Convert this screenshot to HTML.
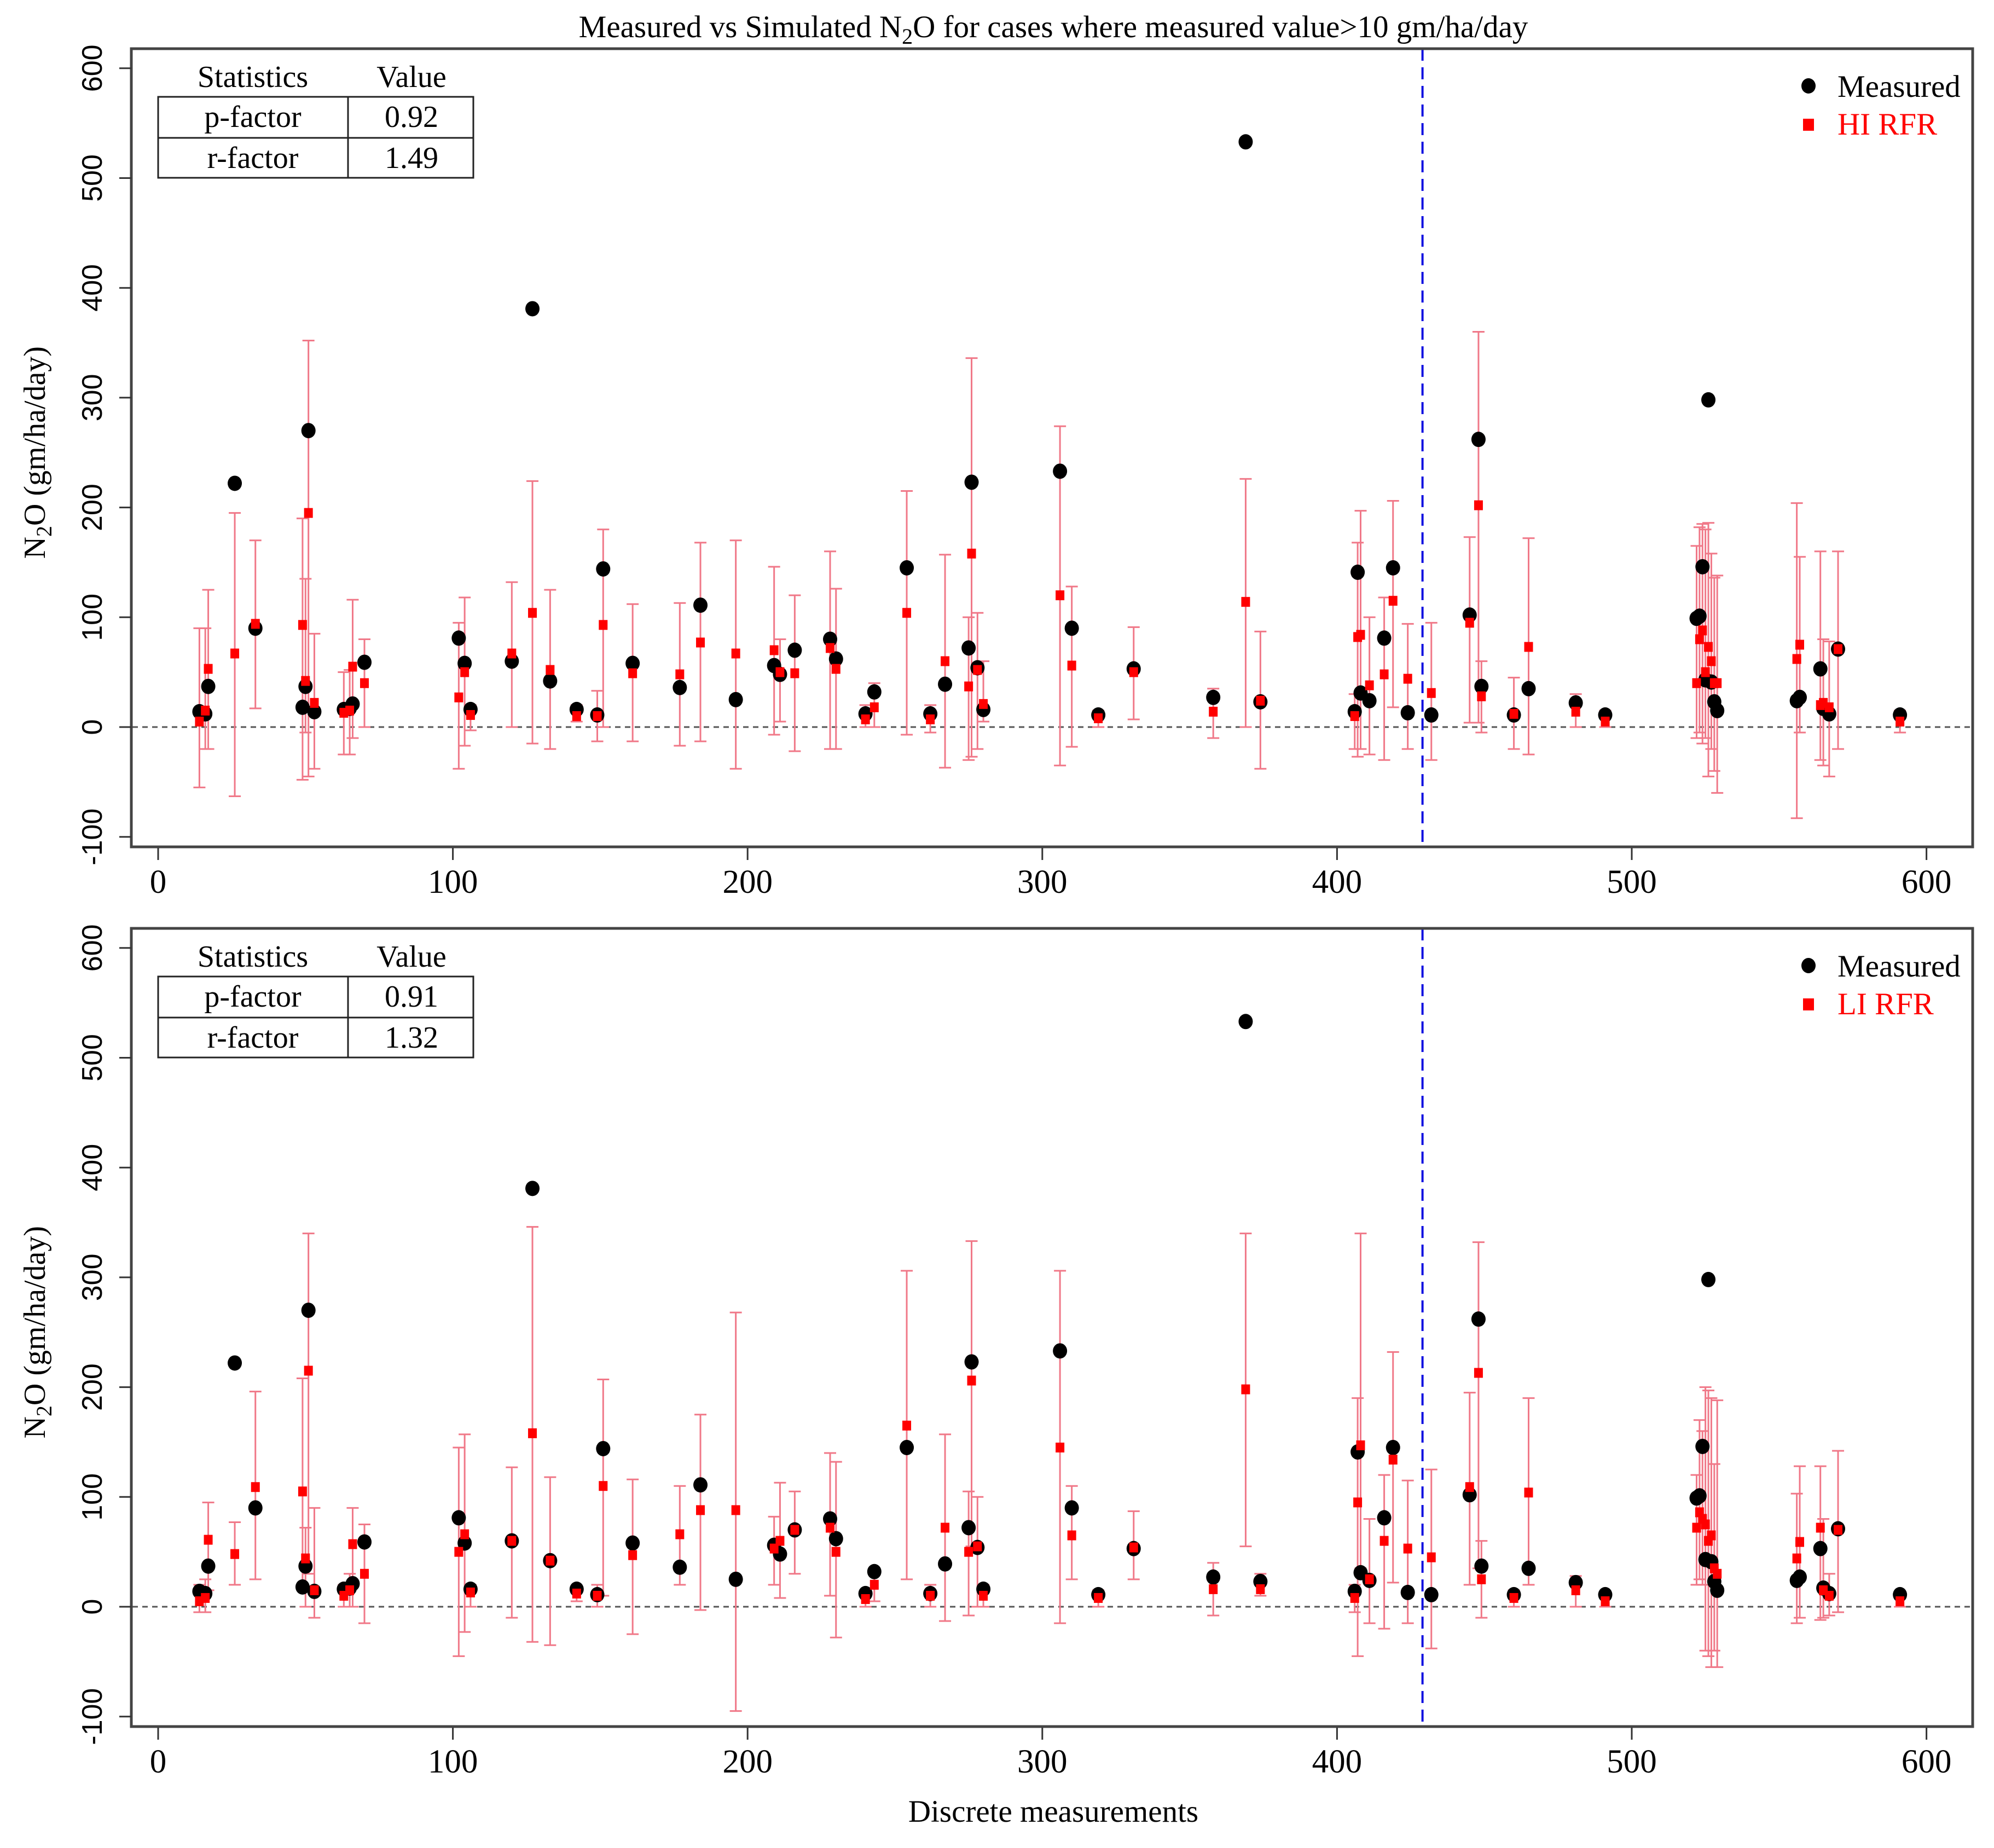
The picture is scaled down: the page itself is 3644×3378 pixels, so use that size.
<!DOCTYPE html>
<html><head><meta charset="utf-8"><style>
html,body{margin:0;padding:0;background:#fff}
svg{display:block}
text{font-family:"Liberation Serif",serif;fill:#000}
.yt{font-family:"Liberation Sans",sans-serif}
</style></head><body>
<svg id="chart" width="3644" height="3378" viewBox="0 0 3644 3378" xmlns="http://www.w3.org/2000/svg">
<text x="1925" y="68" font-size="57" text-anchor="middle">Measured vs Simulated N<tspan font-size="40" dy="12">2</tspan><tspan dy="-12">O for cases where measured value&gt;10 gm/ha/day</tspan></text>
<text x="1925" y="3330" font-size="57" text-anchor="middle">Discrete measurements</text>
<g id="panels"></g>
</svg>
<script>
const xVals=[14,16,17,26,33,49,50,51,53,63,65,66,70,102,104,106,120,127,133,142,149,151,161,177,184,196,209,211,216,228,230,240,243,254,262,267,275,276,278,280,306,310,319,331,358,369,374,406,407,408,411,416,419,424,432,445,448,449,460,465,481,491,522,523,524,525,526,527,528,529,556,557,564,565,567,570,591];
const measured=[14,12,37,222,90,18,37,270,14,16,17,21,59,81,58,16,60,381,42,16,11,144,58,36,111,25,56,48,70,80,62,12,32,145,12,39,72,223,54,16,233,90,11,53,27,533,23,14,141,31,24,81,145,13,11,102,262,37,11,35,22,11,99,101,146,43,298,41,23,15,24,27,53,17,12,71,11];
const hiSim=[5,15,53,67,94,93,42,195,22,13,15,55,40,27,50,11,67,104,52,10,10,93,49,48,77,67,70,50,49,72,53,7,18,104,7,60,37,158,52,21,120,56,8,50,14,114,24,10,82,84,38,48,115,44,31,95,202,28,12,73,14,5,40,80,88,50,73,60,40,40,62,75,20,22,18,71,5];
const hiLo=[-55,-20,-20,-63,17,-48,-5,-45,-38,-25,-25,-10,0,-38,-17,-3,0,-15,-20,5,-13,0,-13,-17,-13,-38,-7,5,-22,-20,-20,0,0,-7,-5,-37,-30,-27,-20,5,-35,-18,0,7,-10,0,-38,-20,-27,-20,-25,-30,18,-20,-30,4,4,-5,-20,-25,0,0,-10,-5,-15,-10,-45,-20,-40,-60,-83,-5,-30,-35,-45,-20,-5];
const hiHi=[90,90,125,195,170,190,135,352,85,50,52,116,80,95,118,20,132,224,125,20,33,180,112,113,168,170,146,80,120,160,126,20,40,215,20,157,100,336,104,60,274,128,15,91,35,226,87,30,168,197,100,118,206,94,95,173,360,60,45,172,30,15,165,182,185,180,186,158,136,138,204,155,160,80,78,160,15];
const liSim=[5,8,61,48,109,105,44,215,15,10,15,57,30,50,66,13,60,158,42,12,10,110,47,66,88,88,53,60,70,72,50,7,20,165,10,72,50,206,55,10,145,65,8,54,16,198,16,8,95,147,25,60,134,53,45,109,213,25,8,104,15,5,72,86,80,75,60,65,35,30,44,59,72,15,10,70,5];
const liLo=[-5,-5,15,20,25,20,0,30,-10,0,0,0,-15,-45,-23,0,-10,-32,-35,5,0,10,-25,20,-3,-95,20,8,30,10,-28,0,5,25,0,-13,-8,55,0,0,-15,25,0,25,-8,55,10,-5,-45,35,-15,-20,22,-15,-38,20,35,-10,0,20,0,0,20,25,20,-40,-45,-55,-40,-55,-15,-10,-12,-10,-8,-5,0];
const liHi=[20,25,95,77,196,208,72,340,90,20,30,90,75,145,157,20,127,346,118,18,20,207,116,110,175,268,82,113,105,140,132,15,35,306,20,157,105,333,100,20,306,110,15,87,40,340,30,20,190,340,80,120,232,115,125,195,332,60,15,190,28,10,120,170,160,200,197,190,130,188,103,128,128,80,30,142,10];
const xTicks=[0,100,200,300,400,500,600];
const yTicks=[-100,0,100,200,300,400,500,600];
const vline=429;

const NS='http://www.w3.org/2000/svg';
function mk(tag,attrs,parent){const e=document.createElementNS(NS,tag);for(const k in attrs)e.setAttribute(k,attrs[k]);parent.appendChild(e);return e;}
const root=document.getElementById('panels');
const X=v=>289+5.386*v;

function panel(off,sim,lo,hi,label,pf,rf,pname){
  const Y=v=>1329+off-v*2.007;
  const g=mk('g',{},root);
  
  
  const z=mk('line',{x1:242,x2:3603,y1:Y(0),y2:Y(0),stroke:'#555','stroke-width':3,'stroke-dasharray':'10,8'},g);
  
  
  const vl=mk('line',{x1:X(vline),x2:X(vline),y1:89+off,y2:1548+off,stroke:'#1010e0','stroke-width':4,'stroke-dasharray':'22,12'},g);
  
  
  for(let i=0;i<xVals.length;i++){
    const x=X(xVals[i]);
    const eb=mk('g',{stroke:'#f07888','stroke-width':3},g);
    
    
    mk('line',{x1:x,x2:x,y1:Y(lo[i]),y2:Y(hi[i])},eb);
    mk('line',{x1:x-11,x2:x+11,y1:Y(lo[i]),y2:Y(lo[i])},eb);
    mk('line',{x1:x-11,x2:x+11,y1:Y(hi[i]),y2:Y(hi[i])},eb);
  }
  for(let i=0;i<xVals.length;i++){
    const c=mk('ellipse',{cx:X(xVals[i]),cy:Y(measured[i]),rx:13,ry:14,fill:'#000'},g);
    
    
  }
  for(let i=0;i<xVals.length;i++){
    const s=mk('rect',{x:X(xVals[i])-8,y:Y(sim[i])-9,width:16,height:18,fill:'#f00'},g);
    
    
  }
  const b=mk('rect',{x:240,y:89+off,width:3365,height:1459,fill:'none',stroke:'#444','stroke-width':5},g);
  
  
  xTicks.forEach(t=>{
    mk('line',{x1:X(t),x2:X(t),y1:1550+off,y2:1572+off,stroke:'#333','stroke-width':3},g);
    const tx=mk('text',{x:X(t),y:1632+off,'font-size':61,'text-anchor':'middle'},g);
    tx.textContent=t;
    
    
  });
  yTicks.forEach(t=>{
    mk('line',{x1:218,x2:240,y1:Y(t),y2:Y(t),stroke:'#333','stroke-width':3},g);
    const tx=mk('text',{x:0,y:0,'font-size':52,'text-anchor':'middle',class:'yt',transform:`translate(186,${Y(t)}) rotate(-90)`},g);
    tx.textContent=t;
    
    
  });
  const yt=mk('text',{x:0,y:0,'font-size':56,'text-anchor':'middle',transform:`translate(82,${Y(250)}) rotate(-90)`},g);
  yt.innerHTML='N<tspan font-size="40" dy="12">2</tspan><tspan dy="-12">O (gm/ha/day)</tspan>';
  
  
  const tb=mk('g',{},g);
  
  
  const h1=mk('text',{x:462,y:159+off,'font-size':56,'text-anchor':'middle'},tb);h1.textContent='Statistics';
  const h2=mk('text',{x:752,y:159+off,'font-size':56,'text-anchor':'middle'},tb);h2.textContent='Value';
  mk('rect',{x:289,y:177+off,width:576,height:148,fill:'none',stroke:'#222','stroke-width':3},tb);
  mk('line',{x1:289,x2:865,y1:252+off,y2:252+off,stroke:'#222','stroke-width':3},tb);
  mk('line',{x1:636,x2:636,y1:177+off,y2:325+off,stroke:'#222','stroke-width':3},tb);
  [['p-factor',pf,232],['r-factor',rf,307]].forEach(r=>{
    const a=mk('text',{x:462,y:r[2]+off,'font-size':56,'text-anchor':'middle'},tb);a.textContent=r[0];
    const v=mk('text',{x:752,y:r[2]+off,'font-size':56,'text-anchor':'middle'},tb);v.textContent=r[1];
  });
  const lg=mk('g',{},g);
  
  
  mk('ellipse',{cx:3305,cy:157+off,rx:13,ry:14,fill:'#000'},lg);
  const l1=mk('text',{x:3358,y:177+off,'font-size':57},lg);l1.textContent='Measured';
  mk('rect',{x:3295,y:217+off,width:20,height:22,fill:'#f00'},lg);
  const l2=mk('text',{x:3358,y:246+off,'font-size':57,fill:'#f00'},lg);l2.textContent=label;
  l2.setAttribute('style','fill:#f00');
}
panel(0,hiSim,hiLo,hiHi,'HI RFR','0.92','1.49','top-panel');
panel(1608,liSim,liLo,liHi,'LI RFR','0.91','1.32','bottom-panel');
</script>
</body></html>
